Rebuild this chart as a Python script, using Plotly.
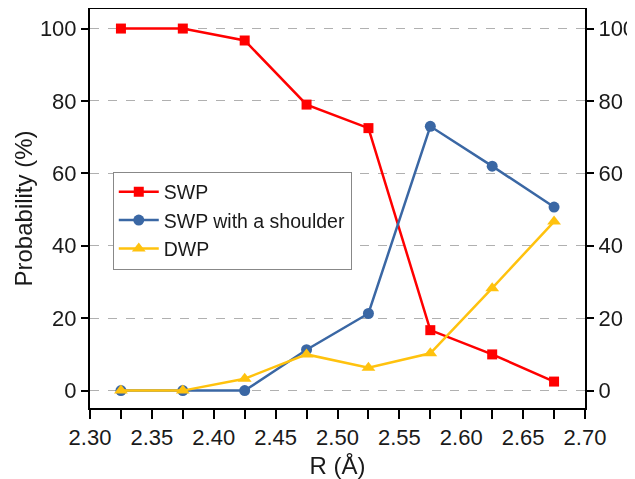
import plotly.graph_objects as go

r_values = [2.325, 2.375, 2.425, 2.475, 2.525, 2.575, 2.625, 2.675]
swp = [100, 100, 96.7, 79.0, 72.5, 16.7, 10.0, 2.5]
swp_shoulder = [0, 0, 0, 11.3, 21.3, 73.0, 62.0, 50.7]
dwp = [0, 0, 3.3, 10.0, 6.3, 10.3, 28.3, 46.7]
x_ticks = [2.30, 2.35, 2.40, 2.45, 2.50, 2.55, 2.60, 2.65, 2.70]
y_ticks = [0, 20, 40, 60, 80, 100]

FONT = "Arial, Liberation Sans, sans-serif"
RED = "#FF0000"
BLUE = "#3A67A4"
YELLOW = "#FFC20E"

fig = go.Figure()
fig.add_trace(go.Scatter(x=r_values, y=swp, name="SWP", mode="lines+markers",
                         line=dict(color=RED, width=2.5),
                         marker=dict(symbol="square", size=10, color=RED)))
fig.add_trace(go.Scatter(x=r_values, y=swp_shoulder, name="SWP with a shoulder", mode="lines+markers",
                         line=dict(color=BLUE, width=2.5),
                         marker=dict(symbol="circle", size=11, color=BLUE)))
fig.add_trace(go.Scatter(x=r_values, y=dwp, name="DWP", mode="lines+markers",
                         line=dict(color=YELLOW, width=2.5),
                         marker=dict(symbol="triangle-up", size=12, color=YELLOW)))
# invisible trace to anchor the right axis
fig.add_trace(go.Scatter(x=r_values, y=swp, yaxis="y2", mode="markers", opacity=0,
                         showlegend=False, hoverinfo="skip"))

yrange = [-4.8, 105.4]
fig.update_layout(
    width=627, height=471,
    margin=dict(l=82, r=50, t=1, b=71),
    paper_bgcolor="white", plot_bgcolor="white",
    font=dict(family=FONT, color="#1a1a1a", size=22),
    xaxis=dict(
        range=[2.30, 2.70], tickvals=x_ticks, tickformat=".2f",
        ticks="outside", ticklen=9, tickwidth=1.5, tickcolor="black",
        minor=dict(dtick=0.025, tick0=2.30, ticks="outside", ticklen=9, tickwidth=1.5, tickcolor="black", showgrid=False),
        showline=True, linecolor="black", linewidth=2, mirror=True,
        showgrid=False, zeroline=False, automargin=False,
        tickfont=dict(size=22),
        title=dict(text="R (Å)", font=dict(size=24), standoff=14),
    ),
    yaxis=dict(
        range=yrange, tickvals=y_ticks,
        ticks="outside", ticklen=7, tickwidth=1.5, tickcolor="black",
        showline=True, linecolor="black", linewidth=2,
        showgrid=True, gridcolor="#B0B0B0", gridwidth=1, griddash="dash",
        zeroline=False, automargin=False, tickfont=dict(size=22),
        title=dict(text="Probability (%)", font=dict(size=24), standoff=0),
    ),
    yaxis2=dict(
        range=yrange, tickvals=y_ticks, overlaying="y", side="right",
        ticks="outside", ticklen=7, tickwidth=1.5, tickcolor="black",
        showline=True, linecolor="black", linewidth=2,
        showgrid=False, zeroline=False, automargin=False, tickfont=dict(size=22),
    ),
    legend=dict(
        x=0.046, y=0.5925, xanchor="left", yanchor="top",
        bgcolor="white", bordercolor="#888888", borderwidth=1,
        font=dict(size=19.5), itemwidth=40, tracegroupgap=0,
    ),
)

fig.write_html("out.html")
